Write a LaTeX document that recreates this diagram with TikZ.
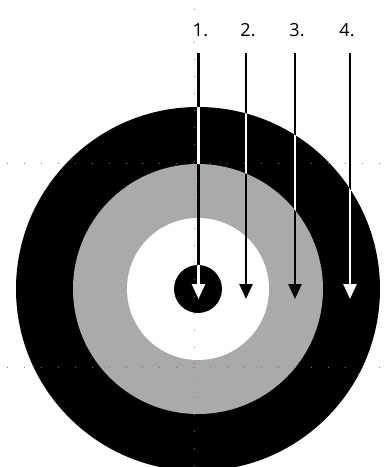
\documentclass[tikz,border=0pt]{standalone}
\usepackage{fontspec}
\setmainfont{Open Sans}
\usetikzlibrary{arrows.meta}
\definecolor{RingGray}{HTML}{AAAAAA}
\definecolor{GuideRed}{HTML}{E05050}

\begin{document}
\begin{tikzpicture}[x=1pt,y=-1pt,
    lbl/.style={font=\fontsize{18}{20}\selectfont,inner sep=0pt,anchor=base},
    probe/.style={-{Triangle[length=15pt,width=13pt]},line width=2.4pt},
    guide/.style={GuideRed,line width=1pt,dash pattern=on 1pt off 15.9pt}]
  \clip (0,0) rectangle (387,467);
  \coordinate (c) at (198,289);
  % target rings
  \fill (c) circle[radius=182];
  \fill[RingGray] (c) circle[radius=125];
  \fill[white] (c) circle[radius=71];
  \fill (c) circle[radius=24];
  % guide lines
  \draw[guide] (7.2,163) -- (387,163);
  \draw[guide] (7.2,367) -- (387,367);
  \draw[guide] (194,8.5) -- (194,467);
  % labels and probe points
  \foreach \i/\x/\lx in {1/198.5/200.5,2/246/248,3/295/297,4/350/347}{
    \node[lbl] (l\i) at (\lx,36) {\i.};
    \coordinate (s\i) at (\x,53);
    \coordinate (t\i) at (\x,299);
  }
  \foreach \i in {1,...,4} \draw[probe] (s\i) -- (t\i);
  % white where the probes cross black
  \begin{scope}[even odd rule]
    \clip (c) circle[radius=182] (c) circle[radius=125] (c) circle[radius=24];
    \foreach \i in {1,...,4} \draw[probe,white] (s\i) -- (t\i);
  \end{scope}
\end{tikzpicture}
\end{document}
